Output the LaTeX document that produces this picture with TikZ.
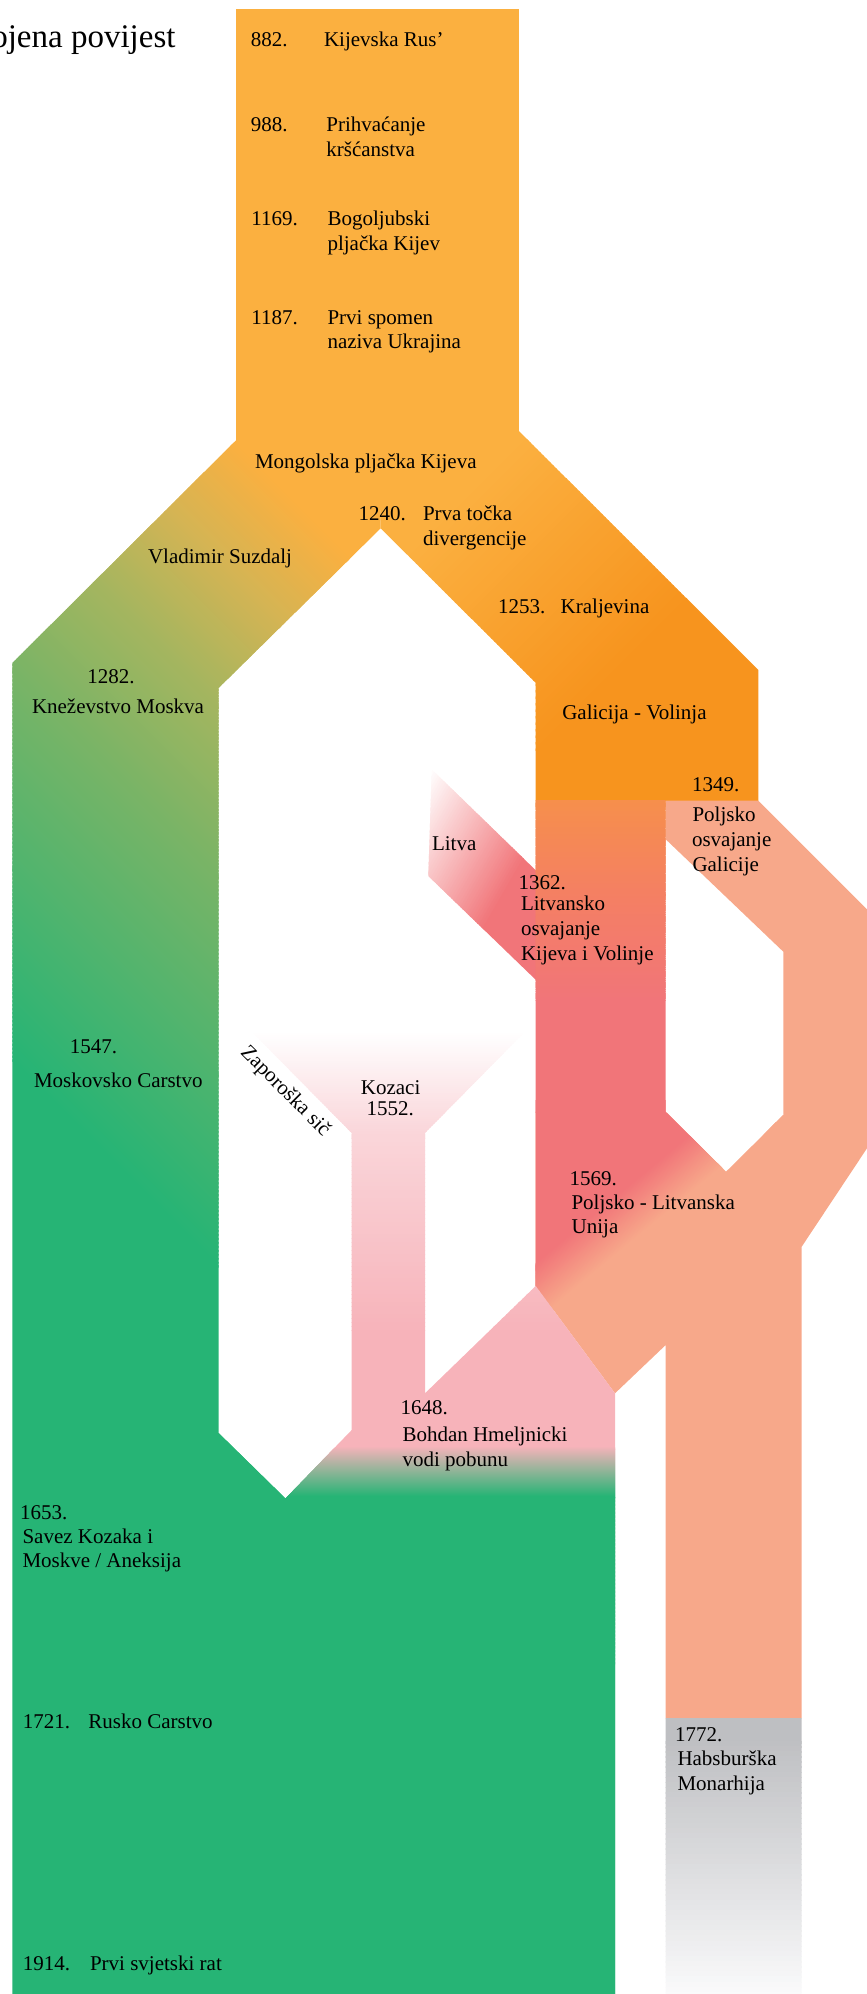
\documentclass[tikz,border=0pt]{standalone}
\usepackage{fontspec}
\setmainfont{Liberation Serif}
\definecolor{O1}{RGB}{251,176,64}
\definecolor{O2}{RGB}{247,148,30}
\definecolor{C1}{RGB}{212,180,84}
\definecolor{C2}{RGB}{165,181,95}
\definecolor{C3}{RGB}{122,180,102}
\definecolor{C4}{RGB}{80,180,110}
\definecolor{G}{RGB}{38,180,117}
\definecolor{RC0}{RGB}{246,143,76}
\definecolor{RC1}{RGB}{244,128,98}
\definecolor{R}{RGB}{241,117,121}
\definecolor{S}{RGB}{247,168,138}
\definecolor{K1}{RGB}{250,214,218}
\definecolor{P}{RGB}{247,179,186}
\definecolor{Gr0}{RGB}{190,191,194}
\definecolor{Gr1}{RGB}{250,250,251}
% base band of a linear gradient: origin, angle, end s, colour
\newcommand{\gradbase}[4]{%
  \begin{scope}[shift={#1},rotate=#2]
    \fill[#4] (-3000,-3000) -- (#3,-3000) -- (#3,3000) -- (-3000,3000) -- cycle;
  \end{scope}}
% gradient bands: origin, angle, s-start, s-end, colour from, colour to, reach of last band
\newcommand{\gradseg}[7]{%
  \begin{scope}[shift={#1},rotate=#2]
    \foreach \gi in {1,...,50}{%
      \pgfmathsetmacro{\gsa}{(#3)+((#4)-(#3))*(\gi-0.5)/50}%
      \pgfmathsetmacro{\gsb}{\gi==50 ? (#7) : (#3)+((#4)-(#3))*(\gi+0.5)/50+1.5}%
      \pgfmathtruncatemacro{\gq}{2*\gi}%
      \fill[#6!\gq!#5] (\gsa,-3000) -- (\gsb,-3000) -- (\gsb,3000) -- (\gsa,3000) -- cycle;
    }%
  \end{scope}}
\begin{document}
\begin{tikzpicture}[x=1pt,y=-1pt,
  lbl/.style={anchor=base west,inner sep=0pt,outer sep=0pt,font=\fontsize{21}{25}\selectfont},
  lblc/.style={anchor=base,inner sep=0pt,outer sep=0pt,font=\fontsize{21}{25}\selectfont}]
\path[use as bounding box] (0,0) rectangle (867,1994);
\clip (0,0) rectangle (867,1994);

% ---- top block (Kijevska Rus')
\fill[O1] (236.4,9) rectangle (518.6,441);

% ---- left branch, Moscow
\begin{scope}
  \clip (236.4,420) -- (380.7,420) -- (380.7,528.3) -- (218.6,688) -- (218.6,1433) -- (285,1498) -- (615,1497) -- (615,1994) -- (12.3,1994) -- (12.3,663) -- (236.4,440) -- cycle;
  \gradbase{(381,440)}{-135}{111}{O1}
  \gradseg{(381,440)}{-135}{105}{200}{O1}{C1}{205}
  \gradseg{(381,440)}{-135}{200}{300}{C1}{C2}{305}
  \gradseg{(381,440)}{-135}{300}{420}{C2}{C3}{425}
  \gradseg{(381,440)}{-135}{420}{560}{C3}{C4}{565}
  \gradseg{(381,440)}{-135}{560}{700}{C4}{G}{3000}
\end{scope}
\fill[G] (218.6,1433) -- (285,1498) -- (615,1497) -- (615,1994) -- (218.6,1994) -- cycle;

% ---- right branch, Galicija - Volinja
\begin{scope}
  \clip (378,420) -- (518.6,420) -- (518.6,430.7) -- (758.4,670) -- (758.4,801.5) -- (535.7,801.5) -- (535.7,682.7) -- (380.7,528.3) -- cycle;
  \gradbase{(381,440)}{-45}{106}{O1}
  \gradseg{(381,440)}{-45}{100}{330}{O1}{O2}{3000}
\end{scope}

% ---- Polish band
\fill[S] (665.7,800.7) -- (758.4,800.7) -- (880,922.3) -- (880,1128.7) -- (801.7,1246.7) -- (801.7,1718.3) -- (665.7,1718.3) -- (665.7,1345) -- (615,1393.3) -- (535.7,1286) -- (535.7,1111.7) -- (665.7,1111.7) -- (726,1171.7) -- (783.3,1115) -- (783.3,951.7) -- (665.7,839.3) -- cycle;

% ---- Litva wedge
\begin{scope}
  \clip (431.7,769.3) -- (537,871.5) -- (537,981) -- (428.3,876) -- cycle;
  \gradbase{(431,770)}{-30}{6}{white}
  \gradseg{(431,770)}{-30}{0}{125}{white}{R}{3000}
\end{scope}

% ---- Lithuanian column
\begin{scope}
  \clip (535.7,800.7) rectangle (665.7,1112);
  \gradbase{(600,800.7)}{-90}{6}{RC0}
  \gradseg{(600,800.7)}{-90}{0}{90}{RC0}{RC1}{95}
  \gradseg{(600,800.7)}{-90}{90}{200}{RC1}{R}{3000}
\end{scope}

% ---- Union
\begin{scope}
  \clip (535.7,1100) -- (665.7,1100) -- (665.7,1111.7) -- (726,1171.7) -- (783.3,1115) -- (880,1115) -- (880,1128.7) -- (801.7,1246.7) -- (801.7,1360) -- (665.7,1360) -- (665.7,1345) -- (615,1393.3) -- (535.7,1286) -- cycle;
  \gradbase{(535.7,1286)}{-50.3}{-12}{R}
  \gradseg{(535.7,1286)}{-50.3}{-18}{27}{R}{S}{29}
\end{scope}

% ---- Cossacks
\begin{scope}
  \clip (251.7,1031.7) -- (525,1031.7) -- (425,1133) -- (425,1393.3) -- (535.7,1286) -- (615,1393.3) -- (615,1499) -- (285,1499) -- (351.7,1430) -- (351.7,1133) -- cycle;
  \gradbase{(400,1031.7)}{-90}{6}{white}
  \gradseg{(400,1031.7)}{-90}{0}{100}{white}{K1}{107}
  \gradseg{(400,1031.7)}{-90}{100}{300}{K1}{P}{418}
  \gradseg{(400,1031.7)}{-90}{415}{465}{P}{G}{3000}
\end{scope}

% ---- Habsburg
\begin{scope}
  \clip (665.7,1718.3) rectangle (801.7,1994);
  \gradbase{(730,1718.3)}{-90}{26}{Gr0}
  \gradseg{(730,1718.3)}{-90}{20}{276}{Gr0}{Gr1}{3000}
\end{scope}

% ---- texts
\node[anchor=base east,inner sep=0pt,outer sep=0pt,font=\fontsize{33}{38}\selectfont] (title) at (175.5,47.3) {ojena povijest};

\node[lbl] (d882) at (250.8,46) {882.};
\node[lbl] (kr) at (324,46) {Kijevska Rus’};
\node[lbl] (d988) at (250.8,131.7) {988.};
\node[lbl] (pr1) at (326.4,131.7) {Prihvaćanje};
\node[lbl] (pr2) at (326.4,156) {kršćanstva};
\node[lbl] (d1169) at (251.3,225) {1169.};
\node[lbl] (bo1) at (327.5,225) {Bogoljubski};
\node[lbl] (bo2) at (327.5,250) {pljačka Kijev};
\node[lbl] (d1187) at (251.3,324) {1187.};
\node[lbl] (ps1) at (327.5,324) {Prvi spomen};
\node[lbl] (ps2) at (327.5,348.3) {naziva Ukrajina};

\node[lbl] (mong) at (255,468.3) {Mongolska pljačka Kijeva};
\node[lbl] (d1240) at (358.5,520.7) {1240.};
\node[lbl] (prva1) at (423,520.7) {Prva točka};
\node[lbl] (prva2) at (423,545.7) {divergencije};
\node[lbl] (vlad) at (148,563.3) {Vladimir Suzdalj};
\node[lbl] (d1253) at (498,613.3) {1253.};
\node[lbl] (kralj) at (560.7,613.3) {Kraljevina};
\node[lbl] (d1282) at (87.3,683.3) {1282.};
\node[lbl] (knez) at (32,713.3) {Kneževstvo Moskva};
\node[lbl] (gal) at (562.3,719.3) {Galicija - Volinja};

\node[lbl] (d1349) at (692,791.7) {1349.};
\node[lbl] (po1) at (692.5,821) {Poljsko};
\node[lbl] (po2) at (692,846) {osvajanje};
\node[lbl] (po3) at (692.5,871) {Galicije};

\node[lbl] (litva) at (432,850.7) {Litva};
\node[lbl] (d1362) at (518.7,889) {1362.};
\node[lbl] (li1) at (521,910.7) {Litvansko};
\node[lbl] (li2) at (521,935.7) {osvajanje};
\node[lbl] (li3) at (521,960.7) {Kijeva i Volinje};

\node[lbl] (d1547) at (69.9,1053) {1547.};
\node[lbl] (mosc) at (34,1087) {Moskovsko Carstvo};

\node[inner sep=0pt,outer sep=0pt,font=\fontsize{21}{25}\selectfont,rotate=-45] (zap) at (285,1091.7) {Zaporoška sič};
\node[lblc] (koz) at (390.6,1094) {Kozaci};
\node[lblc] (d1552) at (390.3,1115) {1552.};

\node[lbl] (d1569) at (569.7,1185) {1569.};
\node[lbl] (un1) at (571.5,1209.3) {Poljsko - Litvanska};
\node[lbl] (un2) at (571.7,1233.3) {Unija};

\node[lbl] (d1648) at (400.7,1414.3) {1648.};
\node[lbl] (bh1) at (402.5,1441) {Bohdan Hmeljnicki};
\node[lbl] (bh2) at (402.5,1466) {vodi pobunu};

\node[lbl] (d1653) at (20,1519) {1653.};
\node[lbl] (sa1) at (22.5,1543) {Savez Kozaka i};
\node[lbl] (sa2) at (22.5,1567) {Moskve / Aneksija};

\node[lbl] (d1721) at (22.9,1728) {1721.};
\node[lbl] (rus) at (88.4,1728) {Rusko Carstvo};
\node[lbl] (d1914) at (22.9,1970) {1914.};
\node[lbl] (war) at (90,1970) {Prvi svjetski rat};

\node[lbl] (d1772) at (675,1741) {1772.};
\node[lbl] (hb1) at (677.5,1765) {Habsburška};
\node[lbl] (hb2) at (677.5,1790) {Monarhija};
\end{tikzpicture}
\end{document}
